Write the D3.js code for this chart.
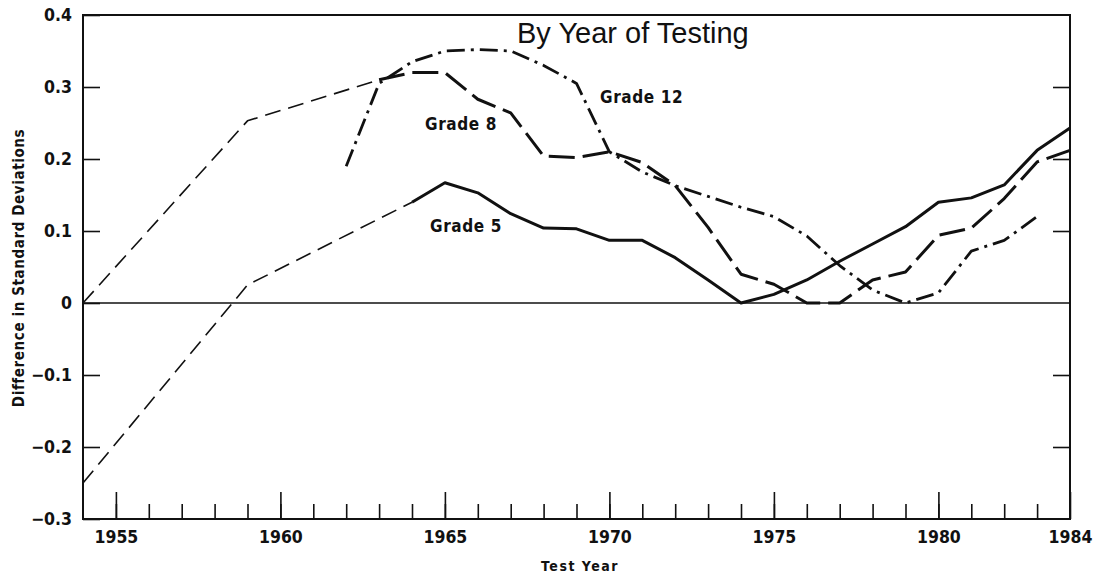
<!DOCTYPE html>
<html>
<head>
<meta charset="utf-8">
<script src="https://cdn.jsdelivr.net/npm/d3@7"></script>
<style>
  body { margin: 0; background: #fff; }
  svg { display: block; }
  .lbl { font-family: "Liberation Sans Narrow", "DejaVu Sans Condensed", "Arial Narrow", sans-serif; font-weight: bold; fill: #111; }
</style>
</head>
<body>
<div id="container"></div>
<script>
// values
const years5 = d3.range(1964, 1985);
const grade5 = [0.14, 0.167, 0.153, 0.124, 0.104, 0.103, 0.087, 0.087, 0.063, 0.032, 0.0,
  0.012, 0.032, 0.058, 0.082, 0.106, 0.14, 0.146, 0.164, 0.212, 0.243];

const years8 = d3.range(1963, 1985);
const grade8 = [0.31, 0.32, 0.32, 0.283, 0.264, 0.204, 0.202, 0.21, 0.195, 0.163, 0.105,
  0.04, 0.026, 0.0, 0.0, 0.032, 0.043, 0.094, 0.104, 0.145, 0.196, 0.212];

const years12 = d3.range(1962, 1984);
const grade12 = [0.19, 0.305, 0.335, 0.35, 0.352, 0.35, 0.33, 0.305, 0.21, 0.182, 0.163,
  0.148, 0.133, 0.12, 0.093, 0.052, 0.018, 0.0, 0.014, 0.072, 0.087, 0.12];

// thin dashed extensions back to 1954
const ext5Years = [1954, 1959, 1964];
const ext5 = [-0.25, 0.025, 0.14];
const ext8Years = [1954, 1959, 1963];
const ext8 = [0.0, 0.253, 0.31];

const yTicks = [-0.3, -0.2, -0.1, 0, 0.1, 0.2, 0.3, 0.4];
const xMajor = [1955, 1960, 1965, 1970, 1975, 1980, 1984];
const xMinor = d3.range(1955, 1984);

const W = 1101, H = 575;
const pLeft = 83, pRight = 1070, pTop = 15, pBottom = 519;

const svg = d3.select("#container").append("svg")
  .attr("width", W).attr("height", H);

const x = d3.scaleLinear().domain([1954, 1984]).range([pLeft, pRight]);
const y = d3.scaleLinear().domain([-0.3, 0.4]).range([pBottom, pTop]);

const fmt = d => d === 0 ? "0" : d3.format(".1f")(d);

// left axis, ticks pointing inward
const gl = svg.append("g")
  .attr("transform", "translate(" + pLeft + ",0)")
  .call(d3.axisLeft(y).tickValues(yTicks).tickFormat(fmt)
    .tickSizeInner(-17).tickSizeOuter(0).tickPadding(11));
gl.selectAll("text").attr("class", "lbl").style("font-size", "17.5px");

// right ticks
svg.append("g")
  .attr("transform", "translate(" + pRight + ",0)")
  .call(d3.axisRight(y).tickValues([-0.2, -0.1, 0.1, 0.2, 0.3]).tickFormat("")
    .tickSizeInner(-17).tickSizeOuter(0));

// bottom minor ticks
svg.append("g")
  .attr("transform", "translate(0," + pBottom + ")")
  .call(d3.axisBottom(x).tickValues(xMinor).tickFormat("")
    .tickSizeInner(-15).tickSizeOuter(0));

// bottom major ticks + labels
const gb = svg.append("g")
  .attr("transform", "translate(0," + pBottom + ")")
  .call(d3.axisBottom(x).tickValues(xMajor).tickFormat(d3.format("d"))
    .tickSizeInner(-27).tickSizeOuter(0).tickPadding(12));
gb.selectAll("text").attr("class", "lbl").style("font-size", "17.5px");

svg.selectAll(".domain").remove();
svg.selectAll(".tick line").attr("stroke", "#111").attr("stroke-width", 1.6);
svg.selectAll(".tick text").attr("fill", "#111");
svg.selectAll("g").attr("font-family", null).attr("font-size", null);

// frame
svg.append("rect")
  .attr("x", pLeft).attr("y", pTop)
  .attr("width", pRight - pLeft).attr("height", pBottom - pTop)
  .attr("fill", "none").attr("stroke", "#111").attr("stroke-width", 2);

// zero line
svg.append("line")
  .attr("x1", pLeft).attr("x2", pRight)
  .attr("y1", y(0)).attr("y2", y(0))
  .attr("stroke", "#111").attr("stroke-width", 1.6);

const line = d3.line().x(d => x(d[0])).y(d => y(d[1]));
const pairs = (xs, ys) => xs.map((v, i) => [v, ys[i]]);

function drawLine(xs, ys, width, dash) {
  svg.append("path")
    .datum(pairs(xs, ys))
    .attr("d", line)
    .attr("fill", "none")
    .attr("stroke", "#111")
    .attr("stroke-width", width)
    .attr("stroke-linejoin", "round")
    .attr("stroke-dasharray", dash);
}

drawLine(ext8Years, ext8, 1.6, "16,8");
drawLine(ext5Years, ext5, 1.6, "16,8");
drawLine(years12, grade12, 2.8, "18,6,3,6");
drawLine(years8, grade8, 3, "26,8");
drawLine(years5, grade5, 3, null);

// title and labels
svg.append("text")
  .attr("x", 517).attr("y", 43)
  .style("font-family", "'Liberation Sans', Arial, sans-serif")
  .style("font-size", "29px").attr("fill", "#111")
  .text("By Year of Testing");

svg.append("text").attr("class", "lbl").attr("x", 600).attr("y", 103)
  .style("font-size", "17px").attr("letter-spacing", 0.6).text("Grade 12");
svg.append("text").attr("class", "lbl").attr("x", 425).attr("y", 130)
  .style("font-size", "17px").attr("letter-spacing", 0.6).text("Grade 8");
svg.append("text").attr("class", "lbl").attr("x", 430).attr("y", 232)
  .style("font-size", "17px").attr("letter-spacing", 0.6).text("Grade 5");

svg.append("text").attr("class", "lbl")
  .attr("transform", "translate(24,268) rotate(-90)")
  .attr("text-anchor", "middle")
  .style("font-size", "15px").attr("letter-spacing", 0.6)
  .text("Difference in Standard Deviations");

svg.append("text").attr("class", "lbl")
  .attr("x", 580).attr("y", 571)
  .attr("text-anchor", "middle")
  .style("font-size", "14px").attr("letter-spacing", 1.5)
  .text("Test Year");
</script>
</body>
</html>
